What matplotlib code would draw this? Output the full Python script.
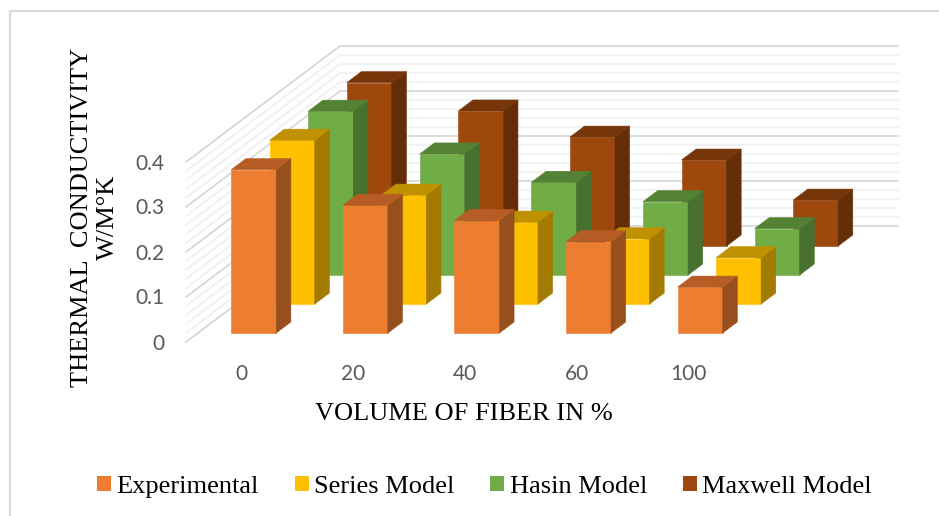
import matplotlib
matplotlib.use("Agg")
import matplotlib.pyplot as plt
from matplotlib.patches import Polygon, Patch

# values
categories = ["0", "20", "40", "60", "100"]
series_names = ["Experimental", "Series Model", "Hasin Model", "Maxwell Model"]
experimental = [0.363, 0.284, 0.250, 0.203, 0.102]
series_model = [0.364, 0.242, 0.182, 0.145, 0.103]
hasin_model = [0.364, 0.269, 0.206, 0.163, 0.103]
maxwell_model = [0.363, 0.300, 0.242, 0.191, 0.102]
all_series = [experimental, series_model, hasin_model, maxwell_model]
y_ticks = [0, 0.1, 0.2, 0.3, 0.4]
minor_ticks = [0.02, 0.04, 0.06, 0.08, 0.12, 0.14, 0.16, 0.18,
               0.22, 0.24, 0.26, 0.28, 0.32, 0.34, 0.36, 0.38]

# front, top, side
colors = [
    ("#ED7D31", "#B85C25", "#97501D"),
    ("#FFC000", "#BF9000", "#A37B00"),
    ("#70AD47", "#548235", "#48702E"),
    ("#9E480E", "#773609", "#652E09"),
]

W, H = 939, 516
X0, Y0 = 186.0, 342.0   # where category 0, value 0, depth 0 lands
CAT_PX, VAL_PX = 111.6, 450.0
DEPTH_X = 38.5 / CAT_PX  # shear per series slot
DEPTH_Y = 29.0 / VAL_PX
BAR_W = 45.0 / CAT_PX
BAR_D = 0.38
N_DEPTH = len(all_series)


def proj(cat, depth, val):
    return cat + depth * DEPTH_X, val + depth * DEPTH_Y


fig = plt.figure(figsize=(W / 100, H / 100), dpi=100)
ax = fig.add_axes([0, 0, 1, 1])
ax.set_xlim(-X0 / CAT_PX, (W - X0) / CAT_PX)
ax.set_ylim((Y0 - H) / VAL_PX, Y0 / VAL_PX)
ax.axis("off")

# walls
n_cat = len(categories)
for ticks, col, lw in [(minor_ticks, "#EFEFEF", 1.1), (y_ticks, "#D2D2D2", 1.1)]:
    for v in ticks:
        bx, by = proj(0, N_DEPTH, v)
        ex, ey = proj(n_cat, N_DEPTH, v)
        fx, fy = proj(0, 0, v)
        ax.plot([fx, bx, ex], [fy, by, ey], color=col, lw=lw, zorder=1,
                solid_joinstyle="miter")

# bars, back row first
gap = (1 - BAR_W) / 2
d_gap = (1 - BAR_D) / 2
for s in range(N_DEPTH - 1, -1, -1):
    front, top, side = colors[s]
    for c, val in enumerate(all_series[s]):
        xl = c + gap
        xr = xl + BAR_W
        d1 = s + d_gap
        d2 = d1 + BAR_D
        faces = [
            ([proj(xl, d1, 0), proj(xr, d1, 0), proj(xr, d1, val), proj(xl, d1, val)], front),
            ([proj(xr, d1, 0), proj(xr, d2, 0), proj(xr, d2, val), proj(xr, d1, val)], side),
            ([proj(xl, d1, val), proj(xr, d1, val), proj(xr, d2, val), proj(xl, d2, val)], top),
        ]
        for pts, col in faces:
            ax.add_patch(Polygon(pts, closed=True, facecolor=col, edgecolor=col,
                                 lw=0.4, zorder=2))

# tick labels
tick_font = "Lato"
for v in y_ticks:
    ax.text(-X0 / CAT_PX + 164.5 / CAT_PX, v - 1.5 / VAL_PX, f"{v:g}", ha="right", va="center",
            color="#595959", fontsize=15, family=tick_font)
for c, lab in enumerate(categories):
    ax.text(c + 0.5, -31.5 / VAL_PX, lab, ha="center", va="center",
            color="#595959", fontsize=15, family=tick_font)

# axis titles
serif = "Liberation Serif"
fig.text(464 / W, 1 - 414 / H, "VOLUME OF FIBER IN %", ha="center", va="center",
         fontsize=19, family=serif, color="black")
fig.text(95 / W, 1 - 217 / H, "THERMAL  CONDUCTIVITY\nW/M°K", rotation=90, ha="center",
         va="center", multialignment="center", fontsize=19, family=serif,
         color="black", linespacing=1.2)

# legend
handles = [Patch(facecolor=colors[i][0], edgecolor="none", label=series_names[i])
           for i in range(N_DEPTH)]
fig.legend(handles=handles, ncol=4, loc="center", bbox_to_anchor=(484.5 / W, 1 - 487 / H),
           frameon=False, handlelength=0.53, handleheight=0.53, handletextpad=0.2,
           columnspacing=1.36, prop={"family": serif, "size": 19})

# chart border, only top and left show
ax.plot([9.5 / W, 9.5 / W, 1], [0, 1 - 11 / H, 1 - 11 / H], transform=ax.transAxes,
        color="#D9D9D9", lw=1.5, zorder=1, clip_on=False)

fig.savefig("out.png", dpi=100)
